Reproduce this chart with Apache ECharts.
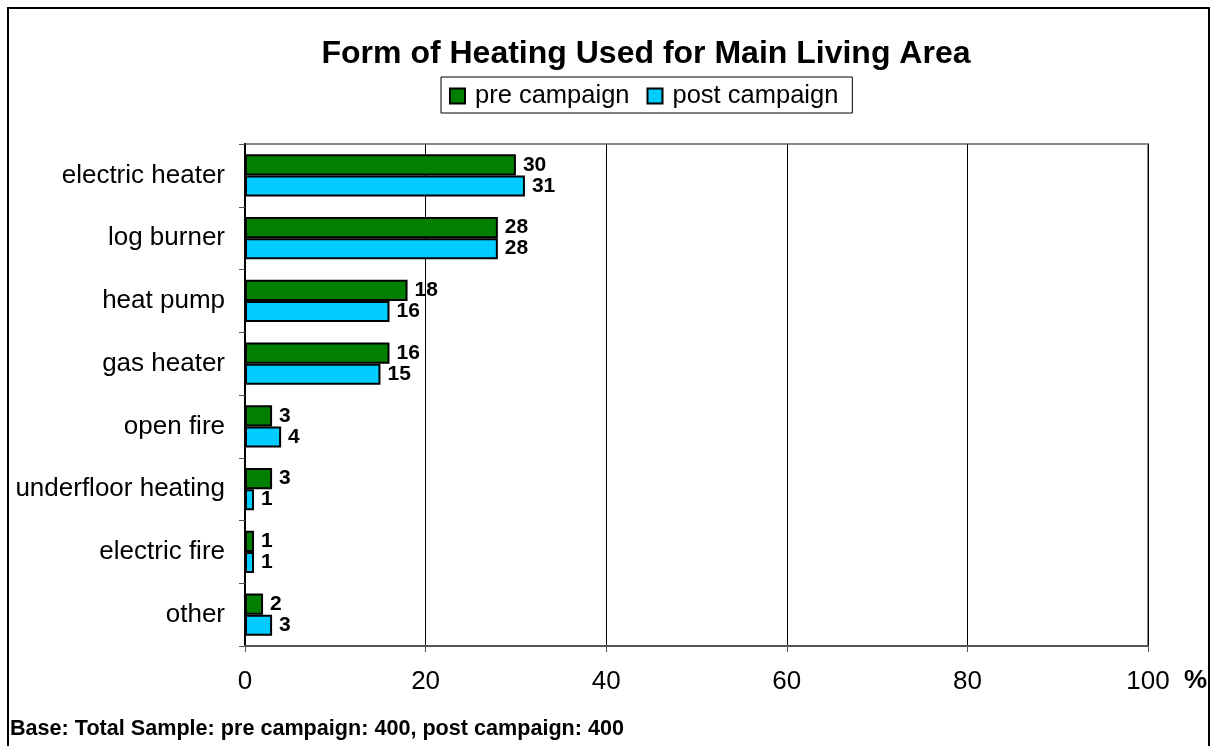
<!DOCTYPE html>
<html><head><meta charset="utf-8">
<script src="https://cdn.jsdelivr.net/npm/echarts@6/dist/echarts.min.js"></script>
<style>html,body{margin:0;padding:0;background:#fff}#c{width:1215px;height:746px}</style>
</head><body><div id="c"></div>
<script>
const categories = ['electric heater','log burner','heat pump','gas heater','open fire','underfloor heating','electric fire','other'];
const preCampaign = [30,28,18,16,3,3,1,2];
const postCampaign = [31,28,16,15,4,1,1,3];
const xTicks = [0,20,40,60,80,100];

const FF = 'Arial, Liberation Sans';
const chart = echarts.init(document.getElementById('c'));
const labelStyle = {show:true, position:'right', distance:7, color:'#000', fontFamily:FF, fontWeight:'bold', fontSize:21};
chart.setOption({
  animation:false,
  textStyle:{fontFamily:FF},
  graphic:[
    {type:'rect', shape:{x:8,y:8,width:1201,height:780}, style:{fill:'none', stroke:'#000', lineWidth:2}, z:-1},
    {type:'text', left:1184, top:668, style:{text:'%', fontSize:26, fontWeight:'bold', fill:'#000', fontFamily:FF}},
    {type:'text', left:10, top:718, style:{text:'Base: Total Sample: pre campaign: 400, post campaign: 400', fontSize:21.6, fontWeight:'bold', fill:'#000', fontFamily:FF}}
  ],
  title:{text:'Form of Heating Used for Main Living Area', left:641, textAlign:'center', top:33,
    textStyle:{fontSize:32, fontWeight:'bold', color:'#000', fontFamily:FF}},
  legend:{data:['pre campaign','post campaign'], left:441, top:77, itemWidth:15, itemHeight:15, itemGap:17,
    icon:'rect', borderColor:'#000', borderWidth:1, padding:[6,14,4,8],
    textStyle:{fontSize:25.5, color:'#000', fontFamily:FF, padding:[0,0,0,5]}},
  grid:{left:245, right:67, top:144, bottom:100, show:true, borderColor:'#888', borderWidth:2, containLabel:false},
  xAxis:{type:'value', min:0, max:100, interval:20,
    axisLine:{show:true, lineStyle:{color:'#555', width:2}},
    axisTick:{show:true, length:6, lineStyle:{color:'#555', width:1}},
    axisLabel:{fontSize:26, color:'#000', margin:23, formatter:v=>xTicks.includes(v)?String(v):''},
    splitLine:{show:true, lineStyle:{color:'#000', width:1}}},
  yAxis:{type:'category', data:categories, inverse:true,
    axisLine:{show:true, lineStyle:{color:'#000', width:2}},
    axisTick:{show:true, length:6, lineStyle:{color:'#555'}},
    axisLabel:{fontSize:26, color:'#000', margin:20}},
  series:[
    {name:'pre campaign', type:'bar', data:preCampaign, barGap:'0%', barCategoryGap:'33%',
      itemStyle:{color:'#007F00', borderColor:'#000', borderWidth:2}, label:labelStyle},
    {name:'post campaign', type:'bar', data:postCampaign, barGap:'0%', barCategoryGap:'33%',
      itemStyle:{color:'#00CCFF', borderColor:'#000', borderWidth:2}, label:labelStyle}
  ]
});
</script></body></html>
